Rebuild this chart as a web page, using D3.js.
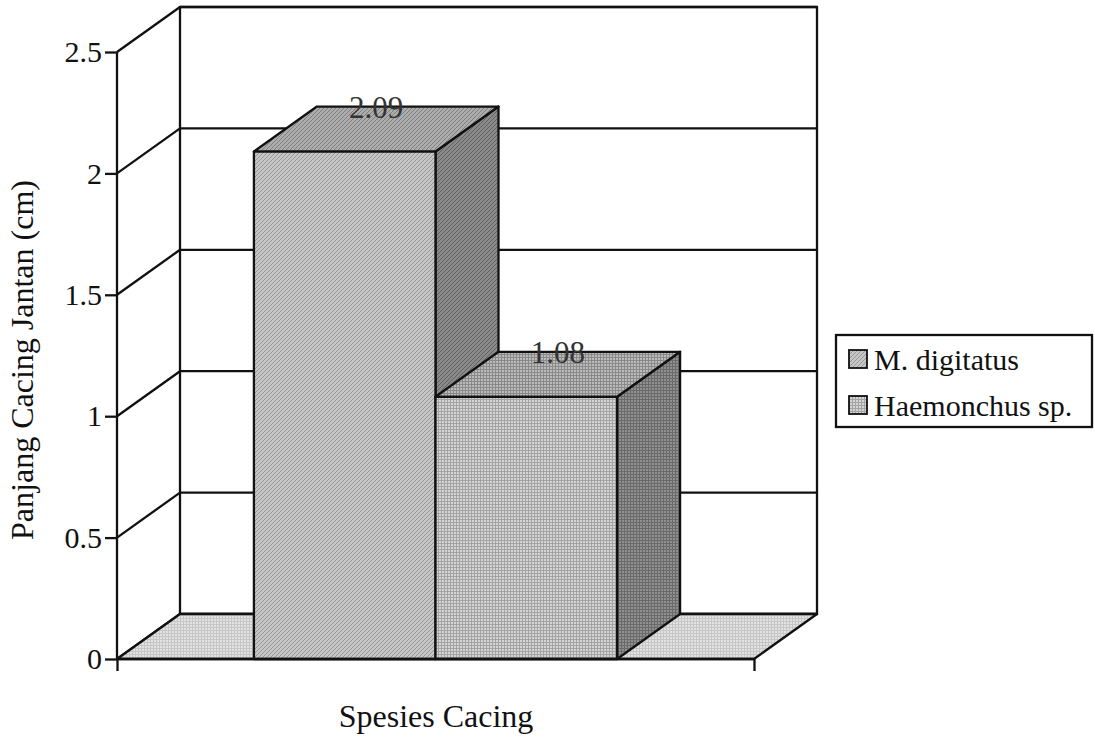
<!DOCTYPE html>
<html>
<head>
<meta charset="utf-8">
<script src="https://cdn.jsdelivr.net/npm/d3@7"></script>
<style>
  html, body { margin: 0; padding: 0; background: #fff; }
  svg { display: block; }
  text { font-family: "Liberation Serif", "Times New Roman", serif; fill: #111; }
</style>
</head>
<body>
<svg id="chart" width="1095" height="739"></svg>
<script>
// ---- data ----
const categories = ["Spesies Cacing"];
const seriesNames = ["M. digitatus", "Haemonchus sp."];
const seriesValues = [2.09, 1.08];
const valueLabels = ["2.09", "1.08"];
const tickValues = [0, 0.5, 1, 1.5, 2, 2.5];
const tickLabels = ["0", "0.5", "1", "1.5", "2", "2.5"];
const yTitle = "Panjang Cacing Jantan (cm)";
const xTitle = "Spesies Cacing";

// ---- layout ----
const svg = d3.select("#chart");
const pLeft = 117, pRight = 754, pBottom = 659, pTop = 52;
const DX = 63, DY = -45; // depth offset

const y = d3.scaleLinear().domain([0, 2.5]).range([pBottom, pTop]);
const x0 = d3.scaleBand().domain(categories).range([pLeft, pRight]).paddingInner(0).paddingOuter(0.377);
const x1 = d3.scaleBand().domain(seriesNames).range([0, x0.bandwidth()]).padding(0);

// ---- patterns ----
const defs = svg.append("defs");
function diag(id, base, line) {
  const p = defs.append("pattern").attr("id", id).attr("patternUnits", "userSpaceOnUse")
    .attr("width", 4).attr("height", 4);
  p.append("rect").attr("width", 4).attr("height", 4).attr("fill", base);
  p.append("path").attr("d", "M-1,1 l2,-2 M0,4 l4,-4 M3,5 l2,-2")
    .attr("stroke", line).attr("stroke-width", 1);
}
function grid(id, base, line, s) {
  const p = defs.append("pattern").attr("id", id).attr("patternUnits", "userSpaceOnUse")
    .attr("width", s).attr("height", s);
  p.append("rect").attr("width", s).attr("height", s).attr("fill", base);
  p.append("path").attr("d", `M0,0.5 H${s} M0.5,0 V${s}`)
    .attr("stroke", line).attr("stroke-width", 1);
}
diag("p0front", "#c6c6c6", "#979797");
diag("p0top", "#adadad", "#7e7e7e");
diag("p0side", "#8a8a8a", "#626262");
grid("p1front", "#d4d4d4", "#a4a4a4", 3);
grid("p1top", "#bababa", "#8a8a8a", 3);
grid("p1side", "#909090", "#6a6a6a", 3);
grid("pfloor", "#e2e2e2", "#c6c6c6", 3);
const faceIds = [["p0front", "p0top", "p0side"], ["p1front", "p1top", "p1side"]];

const lineCol = "#111", lw = 2.3;
const serif = "Liberation Serif, Times New Roman, serif";

// ---- walls ----
const g = svg.append("g");
g.append("rect").attr("x", pLeft + DX).attr("y", pTop + DY)
  .attr("width", pRight - pLeft).attr("height", pBottom - pTop)
  .attr("fill", "#fff").attr("stroke", lineCol).attr("stroke-width", lw);
tickValues.forEach(v => {
  g.append("line").attr("x1", pLeft + DX).attr("x2", pRight + DX)
    .attr("y1", y(v) + DY).attr("y2", y(v) + DY)
    .attr("stroke", lineCol).attr("stroke-width", lw);
  g.append("line").attr("x1", pLeft).attr("x2", pLeft + DX)
    .attr("y1", y(v)).attr("y2", y(v) + DY)
    .attr("stroke", lineCol).attr("stroke-width", lw);
});
g.append("path")
  .attr("d", `M${pLeft},${y(0)} L${pRight},${y(0)} L${pRight + DX},${y(0) + DY} L${pLeft + DX},${y(0) + DY} Z`)
  .attr("fill", "url(#pfloor)").attr("stroke", lineCol).attr("stroke-width", lw).attr("stroke-linejoin", "round");

// ---- bars ----
const bars = svg.append("g");
seriesNames.forEach((s, i) => {
  const v = seriesValues[i];
  const xl = x0(categories[0]) + x1(s);
  const xr = xl + x1.bandwidth();
  const yt = y(v), yb = y(0);
  const bg = bars.append("g").attr("stroke", lineCol).attr("stroke-width", lw).attr("stroke-linejoin", "round");
  bg.append("path")
    .attr("d", `M${xr},${yt} L${xr + DX},${yt + DY} L${xr + DX},${yb + DY} L${xr},${yb} Z`)
    .attr("fill", `url(#${faceIds[i][2]})`);
  bg.append("path")
    .attr("d", `M${xl},${yt} L${xr},${yt} L${xr + DX},${yt + DY} L${xl + DX},${yt + DY} Z`)
    .attr("fill", `url(#${faceIds[i][1]})`);
  bg.append("rect").attr("x", xl).attr("y", yt).attr("width", xr - xl).attr("height", yb - yt)
    .attr("fill", `url(#${faceIds[i][0]})`);
  svg.append("text")
    .attr("x", (xl + xr) / 2 + DX / 2).attr("y", yt + DY + 11)
    .attr("text-anchor", "middle")
    .attr("font-size", 31).style("fill", "#333")
    .text(valueLabels[i]);
});

// ---- front axes ----
const yAxis = d3.axisLeft(y).tickValues(tickValues).tickSize(12).tickPadding(3)
  .tickFormat((d, i) => tickLabels[i]);
const ya = svg.append("g").attr("transform", `translate(${pLeft},0)`).call(yAxis);
ya.select(".domain").attr("stroke", lineCol).attr("stroke-width", lw).attr("d", `M0,${pTop}V${pBottom}`);
ya.selectAll(".tick line").attr("stroke", lineCol).attr("stroke-width", lw);
ya.selectAll(".tick text").attr("font-size", 30).attr("font-family", serif).style("fill", "#111");

const xAxisScale = d3.scaleLinear().domain([0, 1]).range([pLeft, pRight]);
const xa = svg.append("g").attr("transform", `translate(0,${pBottom})`)
  .call(d3.axisBottom(xAxisScale).tickValues([0, 1]).tickSize(12).tickFormat(""));
xa.select(".domain").attr("stroke", lineCol).attr("stroke-width", lw).attr("d", `M${pLeft},0H${pRight}`);
xa.selectAll(".tick line").attr("stroke", lineCol).attr("stroke-width", lw);

// ---- titles ----
svg.append("text").attr("transform", "translate(33,360) rotate(-90)")
  .attr("text-anchor", "middle")
  .attr("font-size", 32).text(yTitle);
svg.append("text").attr("x", 436).attr("y", 727)
  .attr("text-anchor", "middle")
  .attr("font-size", 32).text(xTitle);

// ---- legend ----
const lg = svg.append("g").attr("transform", "translate(836,335)");
lg.append("rect").attr("width", 256).attr("height", 92).attr("fill", "#fff")
  .attr("stroke", lineCol).attr("stroke-width", lw);
seriesNames.forEach((s, i) => {
  const row = lg.append("g").attr("transform", `translate(13,${24 + i * 46})`);
  row.append("rect").attr("x", 0).attr("y", -9).attr("width", 18).attr("height", 18)
    .attr("fill", `url(#${faceIds[i][0]})`).attr("stroke", lineCol).attr("stroke-width", 1.8);
  row.append("text").attr("x", 25).attr("y", 11)
    .attr("font-size", 30).text(s);
});
</script>
</body>
</html>
